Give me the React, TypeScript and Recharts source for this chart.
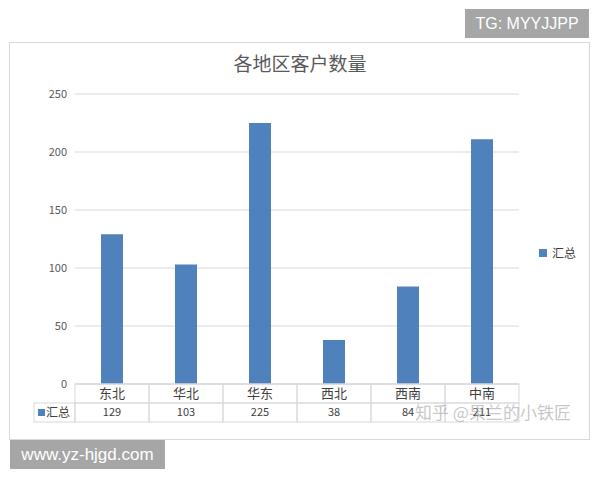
import React from "react";
import { BarChart, Bar, XAxis, YAxis, CartesianGrid } from "recharts";

const title = "各地区客户数量";
const seriesName = "汇总";
const regions = ["东北", "华北", "华东", "西北", "西南", "中南"];
const totals = [129, 103, 225, 38, 84, 211];
const yTicks = [0, 50, 100, 150, 200, 250];

const data = regions.map((r, i) => ({ region: r, total: totals[i] }));

const W = 600;
const H = 480;
const M = { top: 94, right: 81, bottom: 46, left: 35 };
const Y_W = 40;
const X_H = 50;
const PLOT_W = W - M.left - M.right - Y_W;
const COL_W = PLOT_W / regions.length;
const ROW_H = 19;
const BLUE = "#4f81bd";
const GRID = "#d9d9d9";
const CJK = '"Noto Sans CJK SC", "Noto Sans", sans-serif';

function TableTick(props: any) {
  const { x, y, payload, index } = props;
  const left = x - COL_W / 2;
  return (
    <g>
      <rect x={left} y={y} width={COL_W} height={ROW_H} fill="none" stroke={GRID} />
      <text x={x} y={y + 14} textAnchor="middle" fontSize={13} fill="#404040" fontFamily={CJK}>
        {payload.value}
      </text>
      <rect x={left} y={y + ROW_H} width={COL_W} height={ROW_H} fill="none" stroke={GRID} />
      <text x={x} y={y + ROW_H + 13} textAnchor="middle" fontSize={11} fill="#404040" fontFamily={CJK}>
        {totals[index]}
      </text>
      {index === 0 && (
        <g>
          <rect x={34} y={y + ROW_H} width={left - 34} height={ROW_H} fill="none" stroke={GRID} />
          <rect x={38} y={y + ROW_H + 6} width={7} height={7} fill={BLUE} />
          <text x={46} y={y + ROW_H + 14} fontSize={12} fill="#404040" fontFamily={CJK}>
            {seriesName}
          </text>
        </g>
      )}
    </g>
  );
}

export default function App() {
  return (
    <div style={{ position: "absolute", left: 0, top: 0, width: W, height: H, background: "#fff", overflow: "hidden" }}>
      <div
        style={{
          position: "absolute",
          left: 9,
          top: 42,
          width: 579,
          height: 396,
          border: `1px solid ${GRID}`,
          boxSizing: "content-box",
        }}
      />
      <div
        style={{
          position: "absolute",
          left: 0,
          width: W,
          top: 50,
          textAlign: "center",
          fontFamily: CJK,
          fontSize: 19,
          color: "#595959",
          lineHeight: "26px",
        }}
      >
        {title}
      </div>
      <div style={{ position: "absolute", left: 0, top: 0 }}>
        <BarChart width={W} height={H} data={data} margin={M}>
          <CartesianGrid vertical={false} stroke={GRID} />
          <YAxis
            width={Y_W}
            domain={[0, 250]}
            ticks={yTicks}
            axisLine={false}
            tickLine={false}
            tickSize={0}
            tickMargin={8}
            tick={{ fontSize: 11, fill: "#595959", fontFamily: CJK }}
          />
          <XAxis
            dataKey="region"
            height={X_H}
            axisLine={{ stroke: GRID }}
            tickLine={false}
            tickSize={0}
            tickMargin={0}
            interval={0}
            tick={<TableTick />}
          />
          <Bar dataKey="total" name={seriesName} fill={BLUE} barSize={22} isAnimationActive={false} />
        </BarChart>
      </div>
      <div
        style={{
          position: "absolute",
          left: 539,
          top: 244,
          display: "flex",
          alignItems: "center",
          fontFamily: CJK,
          fontSize: 12,
          color: "#404040",
        }}
      >
        <span style={{ display: "inline-block", width: 8, height: 8, background: BLUE, marginRight: 5 }} />
        <span>{seriesName}</span>
      </div>
      <div
        style={{
          position: "absolute",
          left: 415,
          top: 399,
          fontFamily: CJK,
          fontSize: 17,
          color: "rgba(150,150,150,0.55)",
          whiteSpace: "nowrap",
        }}
      >
        知乎 @果兰的小铁匠
      </div>
      <div
        style={{
          position: "absolute",
          left: 465,
          top: 9,
          width: 124,
          height: 29,
          background: "#a6a6a6",
          color: "#fff",
          fontFamily: '"Liberation Sans", Arial, sans-serif',
          fontSize: 16,
          lineHeight: "29px",
          textAlign: "center",
        }}
      >
        TG: MYYJJPP
      </div>
      <div
        style={{
          position: "absolute",
          left: 10,
          top: 440,
          width: 155,
          height: 29,
          background: "#a6a6a6",
          color: "#fff",
          fontFamily: '"Liberation Sans", Arial, sans-serif',
          fontSize: 17,
          lineHeight: "29px",
          textAlign: "center",
        }}
      >
        www.yz-hjgd.com
      </div>
    </div>
  );
}
